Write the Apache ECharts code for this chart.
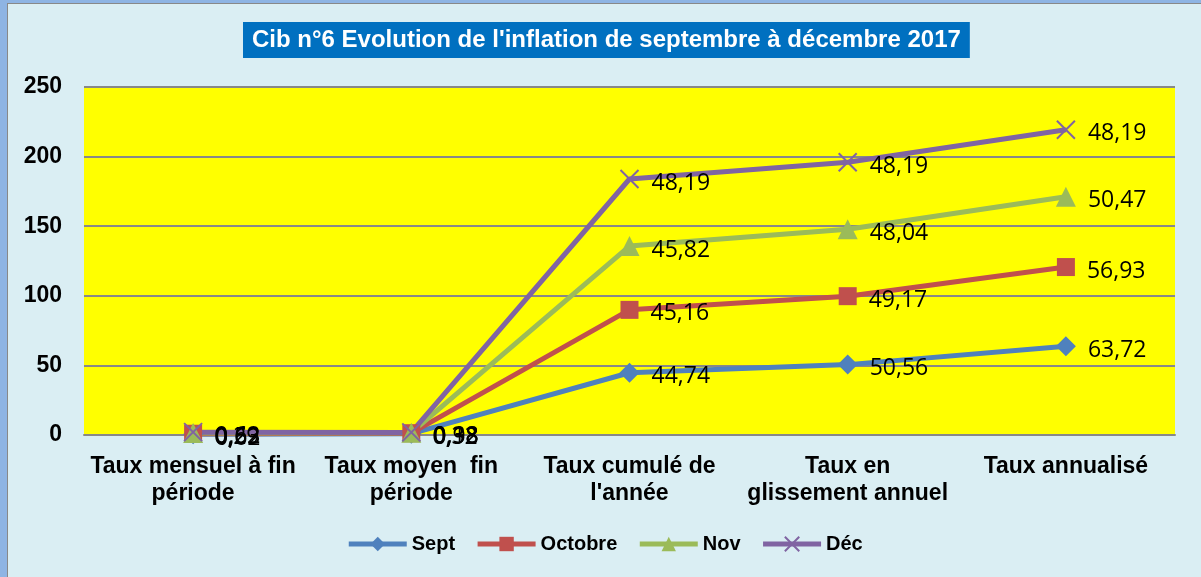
<!DOCTYPE html>
<html>
<head>
<meta charset="utf-8">
<script src="https://cdn.jsdelivr.net/npm/echarts@6/dist/echarts.min.js"></script>
<style>
  html, body { margin: 0; padding: 0; }
  #frame {
    width: 1201px; height: 577px; box-sizing: border-box;
    background: #DAEEF3;
    border-top: 3px solid #8EB4E3;
    border-left: 7px solid #8EB4E3;
  }
  #chart { width: 1194px; height: 574px; border-top: 1px solid #888; border-left: 1px solid #888; box-sizing: border-box; }
</style>
</head>
<body>
<div id="frame"><div id="chart"></div></div>
<script>
// categories
const categories = [
  "Taux mensuel à fin\npériode",
  "Taux moyen  fin\npériode",
  "Taux cumulé de\nl'année",
  "Taux en\nglissement annuel",
  "Taux annualisé"
];
// series values (stacked in the chart)
const sept    = [0.62, 0.98, 44.74, 50.56, 63.72];
const octobre = [0.29, 0.32, 45.16, 49.17, 56.93];
const nov     = [0.53, 0.38, 45.82, 48.04, 50.47];
const dec     = [0.62, 0.18, 48.19, 48.19, 48.19];
const yTicks  = [0, 50, 100, 150, 200, 250];

const chart = echarts.init(document.getElementById('chart'));

const fmt = (p) => String(p.value).replace('.', ',');
const crossPath = 'path://M0,0L10,10M10,0L0,10';

function makeSeries(name, data, color, symbol, size) {
  return {
    name: name,
    type: 'line',
    stack: 'total',
    data: data,
    symbol: symbol,
    symbolSize: size,
    lineStyle: { color: color, width: 5 },
    itemStyle: symbol === crossPath
      ? { color: color, borderColor: color, borderWidth: 2 }
      : { color: color },
    label: {
      show: true,
      position: 'right',
      distance: 12,
      offset: [0, 4],
      formatter: fmt,
      color: '#000',
      fontSize: 23,
      fontFamily: 'Open Sans'
    },
    emphasis: { disabled: true }
  };
}

chart.setOption({
  animation: false,
  title: {
    text: "Cib n°6 Evolution de l'inflation de septembre à décembre 2017",
    left: 235,
    top: 18,
    backgroundColor: '#0070C0',
    padding: [6, 9, 6, 9],
    textStyle: { color: '#fff', fontSize: 24, fontWeight: 'bold', fontFamily: 'Liberation Sans' }
  },
  legend: {
    bottom: 18,
    left: 'center',
    itemWidth: 58,
    itemHeight: 18,
    itemGap: 20,
    lineStyle: { width: 5 },
    textStyle: { color: '#000', fontSize: 20, fontWeight: 'bold', fontFamily: 'Liberation Sans' },
    data: ['Sept', 'Octobre', 'Nov', 'Déc']
  },
  grid: {
    left: 76, right: 26, top: 83, bottom: 142,
    show: true, backgroundColor: '#FFFF00', borderWidth: 0
  },
  xAxis: {
    type: 'category',
    data: categories,
    axisLine: { lineStyle: { color: '#888', width: 2 } },
    axisTick: { show: false },
    axisLabel: {
      color: '#000', fontSize: 23, fontWeight: 'bold', fontFamily: 'Liberation Sans',
      lineHeight: 27, margin: 18, interval: 0
    }
  },
  yAxis: {
    type: 'value',
    min: yTicks[0],
    max: yTicks[yTicks.length - 1],
    interval: 50,
    axisLine: { show: false },
    axisTick: { show: false },
    splitLine: { lineStyle: { color: '#888', width: 2 } },
    axisLabel: {
      color: '#000', fontSize: 23, fontWeight: 'bold', fontFamily: 'Liberation Sans', margin: 22
    }
  },
  series: [
    makeSeries('Sept', sept, '#4F81BD', 'diamond', 20),
    makeSeries('Octobre', octobre, '#C0504D', 'rect', 18),
    makeSeries('Nov', nov, '#9BBB59', 'triangle', 20),
    makeSeries('Déc', dec, '#8064A2', crossPath, 18)
  ]
});
</script>
</body>
</html>
